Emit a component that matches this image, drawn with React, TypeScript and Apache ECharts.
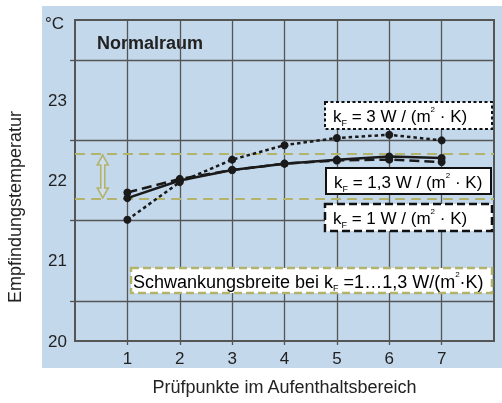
import React, { useEffect, useRef } from "react";
import * as echarts from "echarts";

const xPoints = [1, 2, 3, 4, 5, 6, 7];
const kF3 = [21.51, 21.98, 22.26, 22.44, 22.53, 22.57, 22.5];
const kF13 = [21.78, 22.0, 22.13, 22.21, 22.26, 22.3, 22.28];
const kF1 = [21.85, 22.02, 22.13, 22.21, 22.25, 22.26, 22.23];
const bandLimits = [21.77, 22.33];
const arrowX = 0.53;
const yLabelValues = [20, 21, 22, 23];
const yTickValues = [20.5, 21.5, 22.5, 23.5];

const FONT = "'Liberation Sans', Arial, Helvetica, sans-serif";
const OLIVE = "#b2b46c";
const GRIDC = "#555555";
const TXT = "#222222";

function mkRich(fs: number) {
  return {
    n: { fontSize: fs, lineHeight: 22, fontFamily: FONT, color: TXT },
    sub: { fontSize: 9, lineHeight: 12, verticalAlign: "bottom", fontFamily: FONT, color: TXT },
    sup: { fontSize: 8, lineHeight: 13, verticalAlign: "top", fontFamily: FONT, color: TXT },
  };
}

function box(x: number, y: number, w: number, h: number, stroke: string, dash: any, text: string, lw = 2, fs = 17, pad = 8) {
  return {
    type: "group",
    x,
    y,
    z: 100,
    children: [
      {
        type: "rect",
        shape: { x: 0, y: 0, width: w, height: h },
        style: { fill: "#ffffff", stroke, lineWidth: lw, lineDash: dash },
        z: 100,
      },
      {
        type: "text",
        x: pad,
        y: h / 2 + 1,
        z: 101,
        style: { text, rich: mkRich(fs), verticalAlign: "middle", align: "left", font: `${fs}px ${FONT}` },
      },
    ],
  };
}

export default function App() {
  const ref = useRef<HTMLDivElement>(null);
  useEffect(() => {
    const chart = echarts.init(ref.current!, undefined, { renderer: "svg" });
    const mk = (d: number[]) => xPoints.map((x, i) => [x, d[i]]);
    chart.setOption({
      animation: false,
      textStyle: { fontFamily: FONT },
      grid: {
        left: 75,
        top: 20,
        right: 8,
        bottom: 62,
        show: true,
        borderColor: GRIDC,
        borderWidth: 2,
        backgroundColor: "transparent",
      },
      xAxis: {
        type: "value",
        min: 0,
        max: 8,
        interval: 1,
        name: "Prüfpunkte im Aufenthaltsbereich",
        nameLocation: "middle",
        nameGap: 37,
        nameTextStyle: { fontSize: 18, color: TXT, fontFamily: FONT },
        axisLine: { show: true, lineStyle: { color: GRIDC, width: 2 } },
        axisTick: { show: true, length: 4, customValues: xPoints, lineStyle: { color: GRIDC, width: 1.3 } },
        axisLabel: { fontSize: 17, color: TXT, margin: 9, customValues: xPoints, fontFamily: FONT },
        splitLine: { show: true, lineStyle: { color: GRIDC, width: 1.3 } },
      },
      yAxis: {
        type: "value",
        min: 20,
        max: 24,
        interval: 0.5,
        axisLine: { show: true, lineStyle: { color: GRIDC, width: 2 } },
        axisTick: { show: true, length: 5, customValues: yTickValues, lineStyle: { color: GRIDC, width: 1.3 } },
        axisLabel: { fontSize: 17, color: TXT, margin: 8, customValues: yLabelValues, fontFamily: FONT },
        splitLine: { show: true, lineStyle: { color: GRIDC, width: 1.3 } },
      },
      graphic: [
        {
          type: "rect",
          z: -10,
          shape: { x: 42, y: 6, width: 460, height: 362 },
          style: { fill: "#c4d8ec" },
        },
        {
          type: "text",
          x: 45,
          y: 23,
          style: { text: "°C", fontSize: 17, fill: TXT, fontFamily: FONT, verticalAlign: "middle", align: "left" },
        },
        {
          type: "text",
          x: 97,
          y: 43,
          style: { text: "Normalraum", fontSize: 18, fontWeight: "bold", fill: TXT, fontFamily: FONT, verticalAlign: "middle", align: "left" },
        },
        {
          type: "text",
          x: 15,
          y: 207,
          rotation: Math.PI / 2,
          style: { text: "Empfindungstemperatur", fontSize: 18, fill: TXT, fontFamily: FONT, verticalAlign: "middle", align: "center" },
        },
        box(325, 102, 167, 27, "#111", [3, 2.5], "{n|k}{sub|F}{n| = 3 W / (m}{sup|2}{n| · K)}"),
        box(326, 168, 165, 26, "#111", null, "{n|k}{sub|F}{n| = 1,3 W / (m}{sup|2}{n| · K)}"),
        box(325, 204, 167, 27, "#111", [8, 4], "{n|k}{sub|F}{n| = 1 W / (m}{sup|2}{n| · K)}", 2.5),
        box(131, 268, 361, 25, OLIVE, [8, 4], "{n|Schwankungsbreite bei k}{sub|F}{n| =1…1,3 W/(m}{sup|2}{n|·K)}", 2.5, 18, 2),
      ],
      series: [
        {
          type: "line",
          data: [],
          z: 1,
          markLine: {
            silent: true,
            symbol: "none",
            label: { show: false },
            lineStyle: { color: OLIVE, width: 2, type: [10, 6] },
            data: bandLimits.map((v) => ({ yAxis: v })),
          },
        },
        {
          type: "custom",
          z: 3,
          data: [[arrowX, bandLimits[0], bandLimits[1]]],
          renderItem: (params: any, api: any) => {
            const bottom = api.coord([api.value(0), api.value(1)]);
            const top = api.coord([api.value(0), api.value(2)]);
            const cx = bottom[0];
            const hw = 5.5, sw = 2, hl = 10;
            const yt = top[1] + 1, yb = bottom[1] - 1;
            return {
              type: "polygon",
              shape: {
                points: [
                  [cx, yt],
                  [cx + hw, yt + hl],
                  [cx + sw, yt + hl],
                  [cx + sw, yb - hl],
                  [cx + hw, yb - hl],
                  [cx, yb],
                  [cx - hw, yb - hl],
                  [cx - sw, yb - hl],
                  [cx - sw, yt + hl],
                  [cx - hw, yt + hl],
                ],
              },
              style: { fill: "rgba(255,255,255,0.15)", stroke: OLIVE, lineWidth: 1.6 },
            };
          },
        },
        {
          type: "line",
          name: "kF=3",
          data: mk(kF3),
          z: 5,
          symbol: "circle",
          symbolSize: 8,
          itemStyle: { color: "#1a1a1a" },
          lineStyle: { color: "#1a1a1a", width: 2.5, type: [3.5, 3] },
        },
        {
          type: "line",
          name: "kF=1",
          data: mk(kF1),
          z: 5,
          symbol: "circle",
          symbolSize: 8,
          itemStyle: { color: "#1a1a1a" },
          lineStyle: { color: "#1a1a1a", width: 2.5, type: [10, 5] },
        },
        {
          type: "line",
          name: "kF=1,3",
          data: mk(kF13),
          z: 6,
          symbol: "circle",
          symbolSize: 8,
          itemStyle: { color: "#1a1a1a" },
          lineStyle: { color: "#1a1a1a", width: 2.5 },
        },
      ],
    });
    return () => chart.dispose();
  }, []);
  return <div ref={ref} style={{ position: "fixed", left: 0, top: 0, width: 502, height: 403 }} />;
}
